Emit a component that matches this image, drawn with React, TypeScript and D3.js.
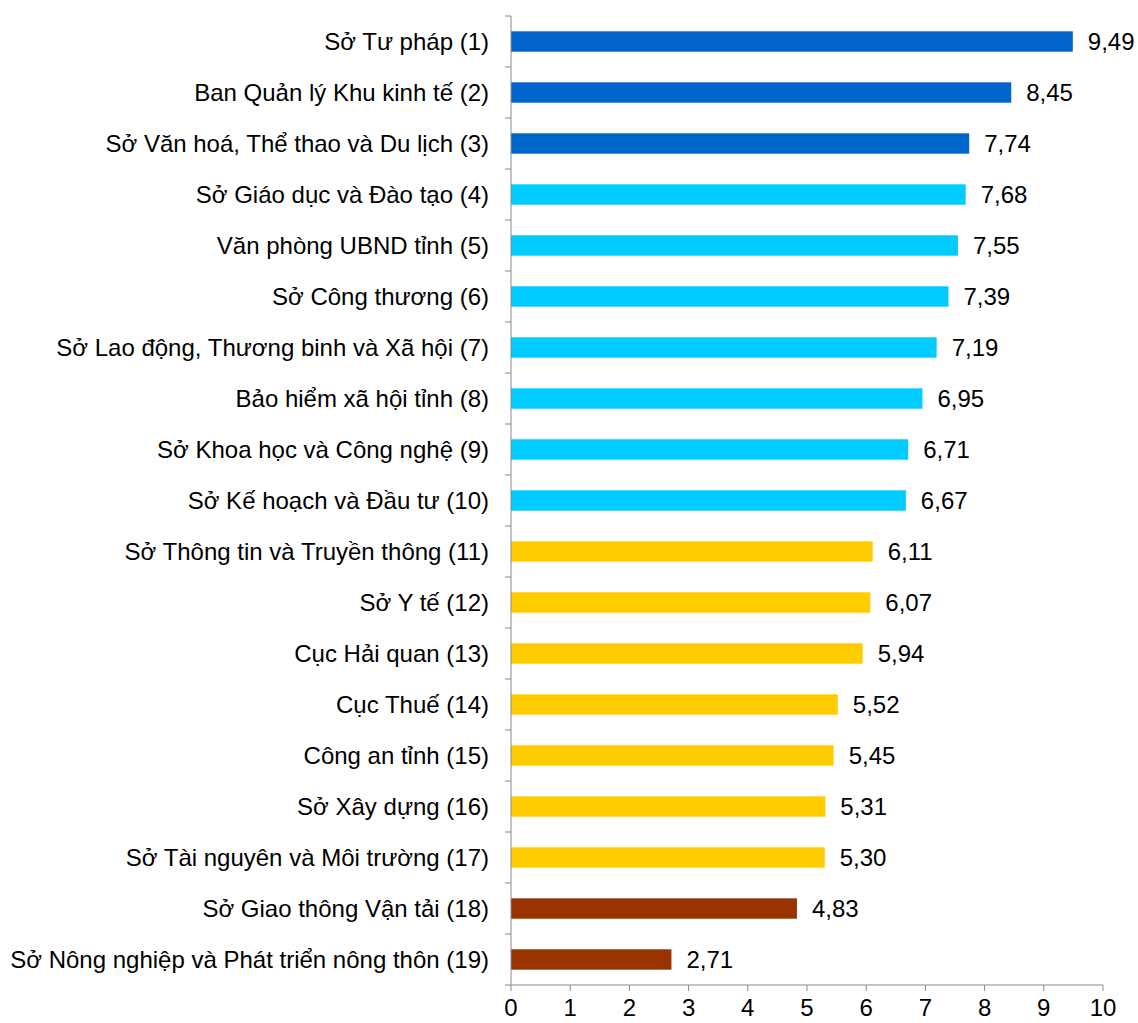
import React from "react";
import * as d3 from "d3";

const categories = [
  "Sở Tư pháp (1)",
  "Ban Quản lý Khu kinh tế (2)",
  "Sở Văn hoá, Thể thao và Du lịch (3)",
  "Sở Giáo dục và Đào tạo (4)",
  "Văn phòng UBND tỉnh (5)",
  "Sở Công thương (6)",
  "Sở Lao động, Thương binh và Xã hội (7)",
  "Bảo hiểm xã hội tỉnh (8)",
  "Sở Khoa học và Công nghệ (9)",
  "Sở Kế hoạch và Đầu tư (10)",
  "Sở Thông tin và Truyền thông (11)",
  "Sở Y tế (12)",
  "Cục Hải quan (13)",
  "Cục Thuế (14)",
  "Công an tỉnh (15)",
  "Sở Xây dựng (16)",
  "Sở Tài nguyên và Môi trường (17)",
  "Sở Giao thông Vận tải (18)",
  "Sở Nông nghiệp và Phát triển nông thôn (19)",
];
const values = [9.49, 8.45, 7.74, 7.68, 7.55, 7.39, 7.19, 6.95, 6.71, 6.67, 6.11, 6.07, 5.94, 5.52, 5.45, 5.31, 5.3, 4.83, 2.71];
const groups = [0, 0, 0, 1, 1, 1, 1, 1, 1, 1, 2, 2, 2, 2, 2, 2, 2, 3, 3];
const groupColors = ["#0066CC", "#00CCFF", "#FFCC00", "#993300"];
const xTicks = [0, 1, 2, 3, 4, 5, 6, 7, 8, 9, 10];

const W = 1138;
const H = 1023;
const left = 511;
const right = 1103;
const top = 16;
const bottom = 985;
const font = "Arial, 'Liberation Sans', sans-serif";

export default function App() {
  const x = d3.scaleLinear().domain([0, 10]).range([left, right]);
  const y = d3.scaleBand<string>().domain(categories).range([top, bottom]).paddingInner(0.6).paddingOuter(0.3);
  const band = (bottom - top) / categories.length;
  const fmt = (v: number) => v.toFixed(2).replace(".", ",");
  return (
    <svg width={W} height={H} style={{ position: "absolute", left: 0, top: 0 }} fontFamily={font}>
      <rect x={0} y={0} width={W} height={H} fill="#fff" />
      {categories.map((c, i) => (
        <g key={c}>
          <rect
            x={x(0)}
            y={y(c)!}
            width={x(values[i]) - x(0)}
            height={y.bandwidth()}
            fill={groupColors[groups[i]]}
          />
          <text x={489} y={y(c)! + y.bandwidth() / 2} dy="0.35em" textAnchor="end" fontSize={24} fill="#000">
            {c}
          </text>
          <text x={x(values[i]) + 15} y={y(c)! + y.bandwidth() / 2} dy="0.35em" fontSize={24} fill="#000">
            {fmt(values[i])}
          </text>
        </g>
      ))}
      {/* y axis */}
      <line x1={left} x2={left} y1={top} y2={bottom} stroke="#898989" strokeWidth={1} />
      {d3.range(categories.length + 1).map((k) => (
        <line key={k} x1={left - 6} x2={left} y1={top + k * band} y2={top + k * band} stroke="#898989" />
      ))}
      {/* x axis */}
      <line x1={left} x2={right} y1={bottom} y2={bottom} stroke="#898989" />
      {xTicks.map((t) => (
        <g key={t}>
          <line x1={x(t)} x2={x(t)} y1={bottom} y2={bottom + 6} stroke="#898989" />
          <text x={x(t)} y={bottom + 31} textAnchor="middle" fontSize={24} fill="#000">
            {t}
          </text>
        </g>
      ))}
    </svg>
  );
}
